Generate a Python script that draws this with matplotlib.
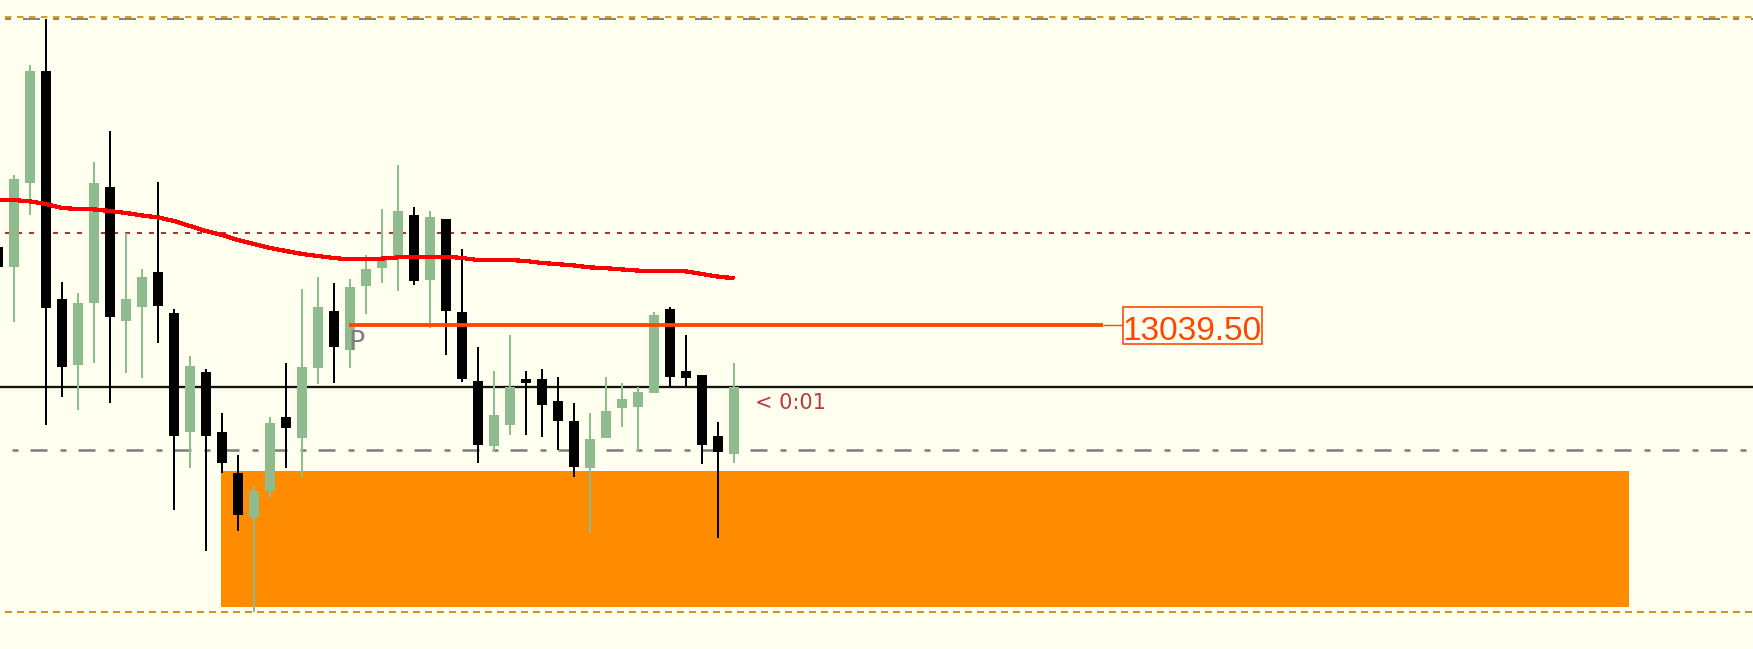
import matplotlib
matplotlib.use('Agg')
import matplotlib.pyplot as plt
from matplotlib.patches import Rectangle

plt.rcParams['lines.scale_dashes'] = False

# ---------------- data ----------------
opens = [13059.0, 13054.0, 13075.0, 13103.0, 13046.0, 13029.5, 13045.0, 13074.0, 13040.5, 13044.0,
         13052.75, 13042.5, 13012.75, 13027.75, 13012.75, 13002.5, 12991.5, 12998.0, 13016.5, 13011.25,
         13028.75, 13043.0, 13033.25, 13049.25, 13053.75, 13056.0, 13067.0, 13050.75, 13066.0, 13042.75,
         13025.5, 13009.25, 13014.5, 13026.0, 13026.0, 13020.5, 13015.5, 13003.75, 13011.25, 13018.75,
         13019.0, 13022.5, 13043.5, 13028.0, 13027.0, 13011.75, 13007.25]
highs = [13059.0, 13077.0, 13104.5, 13116.0, 13050.25, 13047.5, 13080.25, 13088.0, 13062.5, 13053.5,
         13075.25, 13043.5, 13031.75, 13028.5, 13017.5, 13007.0, 12999.5, 13016.5, 13030.0, 13048.5,
         13051.5, 13050.0, 13051.0, 13057.0, 13068.5, 13079.5, 13069.0, 13068.0, 13066.0, 13058.5,
         13034.0, 13028.0, 13037.0, 13028.0, 13028.5, 13026.5, 13020.0, 13017.5, 13026.5, 13025.0,
         13024.0, 13042.75, 13044.0, 13037.0, 13027.0, 13015.25, 13030.0]
lows = [13054.0, 13040.25, 13067.0, 13014.5, 13021.5, 13018.25, 13030.0, 13020.0, 13027.5, 13026.25,
        13035.0, 12993.25, 13003.75, 12983.0, 13002.5, 12988.0, 12967.75, 12996.25, 13003.75, 13001.5,
        13024.75, 13025.0, 13028.75, 13042.25, 13050.0, 13048.0, 13049.5, 13038.75, 13032.0, 13025.25,
        13005.0, 13007.75, 13012.0, 13012.0, 13011.5, 13008.25, 13001.5, 12987.5, 13011.25, 13014.0,
        13007.75, 13022.5, 13024.0, 13024.0, 13004.75, 12986.25, 13005.0]
closes = [13054.0, 13076.0, 13103.0, 13043.75, 13029.0, 13045.0, 13075.0, 13041.5, 13046.0, 13051.5,
          13044.25, 13011.75, 13029.25, 13011.75, 13005.0, 12992.0, 12998.0, 13015.0, 13013.75, 13029.0,
          13044.0, 13034.0, 13049.0, 13053.5, 13056.0, 13068.0, 13050.5, 13066.5, 13043.0, 13026.0,
          13009.5, 13017.0, 13024.0, 13025.0, 13019.5, 13015.5, 13004.0, 13011.0, 13018.0, 13021.0,
          13022.75, 13042.0, 13026.5, 13026.25, 13009.5, 13007.75, 13024.0]
ma_values = [13070.75, 13070.75, 13070.4, 13069.75, 13068.75, 13068.5, 13068.4, 13068.0, 13067.5, 13066.9,
             13066.4, 13065.5, 13064.25, 13063.0, 13062.0, 13060.75, 13059.75, 13058.75, 13058.0, 13057.25,
             13056.75, 13056.25, 13055.9, 13055.9, 13056.1, 13056.4, 13056.6, 13056.6, 13056.6, 13056.25,
             13055.75, 13055.75, 13055.75, 13055.5, 13055.0, 13054.7, 13054.4, 13053.9, 13053.7, 13053.4,
             13053.1, 13053.1, 13053.1, 13052.9, 13052.25, 13051.6, 13051.2]

level_top_gold = 13116.4
level_top_grey = 13115.9
level_red_dotted = 13062.4
level_label = 13039.5
level_black = 13023.9
level_grey = 13008.25
level_bottom = 12967.8
zone_top = 13003.0
zone_bottom = 12969.0
zone_start, zone_end = 13.94, 101.94
label_line_start, label_line_end = 21.94, 69.06
label_box_left, label_box_right = 70.31, 79.0
label_box_top, label_box_bottom = 13044.0, 13034.75
label_text = "13039.50"
timer_text = "< 0:01"

# ---------------- style ----------------
BG = '#FFFFF0'
UP = '#8FBC8F'
DN = '#000000'
PX = 0.72  # points per pixel at dpi 100

fig = plt.figure(figsize=(17.53, 6.49), dpi=100, facecolor=BG)
ax = fig.add_axes([0, 0, 1, 1])
ax.set_facecolor(BG)
ax.set_xlim(0.125, 109.6875)
ax.set_ylim(12958.5, 13120.75)
ax.axis('off')

xmin_line = 0.44
xmax = 109.6875
dashdot = (0, (6 * PX, 12 * PX, 17 * PX, 13 * PX))

# horizontal levels
ax.hlines(level_top_grey, xmin_line, xmax, colors='#858580', linewidth=2 * PX,
          linestyles=dashdot, zorder=1)
ax.hlines(level_top_gold, xmin_line, xmax, colors='#D4A020', linewidth=2 * PX,
          linestyles=(0, (6.5 * PX, 5.5 * PX)), zorder=1.1)
ax.hlines(level_red_dotted, xmin_line, xmax, colors='#B03030', linewidth=2 * PX,
          linestyles=(0, (5 * PX, 7 * PX)), zorder=1)
ax.hlines(level_black, 0.125, xmax, colors='#111111', linewidth=2.3 * PX, zorder=1)
ax.hlines(level_grey, 0.875, xmax, colors='#808080', linewidth=2.6 * PX,
          linestyles=dashdot, zorder=1)
ax.hlines(level_bottom, xmin_line, xmax, colors='#CC9520', linewidth=2 * PX,
          linestyles=(0, (7 * PX, 5 * PX)), zorder=1)

# zone rectangle
ax.add_patch(Rectangle((zone_start, zone_bottom), zone_end - zone_start, zone_top - zone_bottom,
                       facecolor='#FF8C00', edgecolor='none', zorder=0.5))

# candles
xs = list(range(len(opens)))
cols = [UP if c >= o else DN for o, c in zip(opens, closes)]
ax.vlines(xs, lows, highs, colors=cols, linewidth=2 * PX, zorder=2)
bottoms = [min(o, c) for o, c in zip(opens, closes)]
heights = [max(abs(c - o), 0.5) for o, c in zip(opens, closes)]
ax.bar(xs, heights, bottom=bottoms, width=0.625, color=cols, linewidth=0, zorder=3)

# moving average
ax.plot(xs, ma_values, color='#FF0000', linewidth=3.2 * PX, zorder=4,
        solid_capstyle='butt', antialiased=False)

# price label line and box
ax.hlines(level_label, label_line_start, label_line_end, colors='#FF4500', linewidth=3.8 * PX, zorder=4)
ax.hlines(level_label, label_line_end, label_box_left, colors='#FF4500', linewidth=1.4 * PX, zorder=4)
ax.add_patch(Rectangle((label_box_left, label_box_bottom), label_box_right - label_box_left,
                       label_box_top - label_box_bottom, facecolor=BG, edgecolor='#FF4500',
                       linewidth=1.6 * PX, zorder=5))
ax.text((label_box_left + label_box_right) / 2, level_label - 3.75, label_text,
        family=['Liberation Sans', 'DejaVu Sans'], fontsize=24, color='#FF4500',
        ha='center', va='baseline', zorder=6)

# P marker
ax.text(21.875, level_label - 6.25, "P", fontsize=19.5, color='#808088', ha='left', va='baseline', zorder=5)

# timer
ax.text(47.3125, level_black - 5.4, timer_text, fontsize=15, color='#B83C3C', ha='left', va='baseline', zorder=5)

fig.savefig('out.png', dpi=100, facecolor=BG)
